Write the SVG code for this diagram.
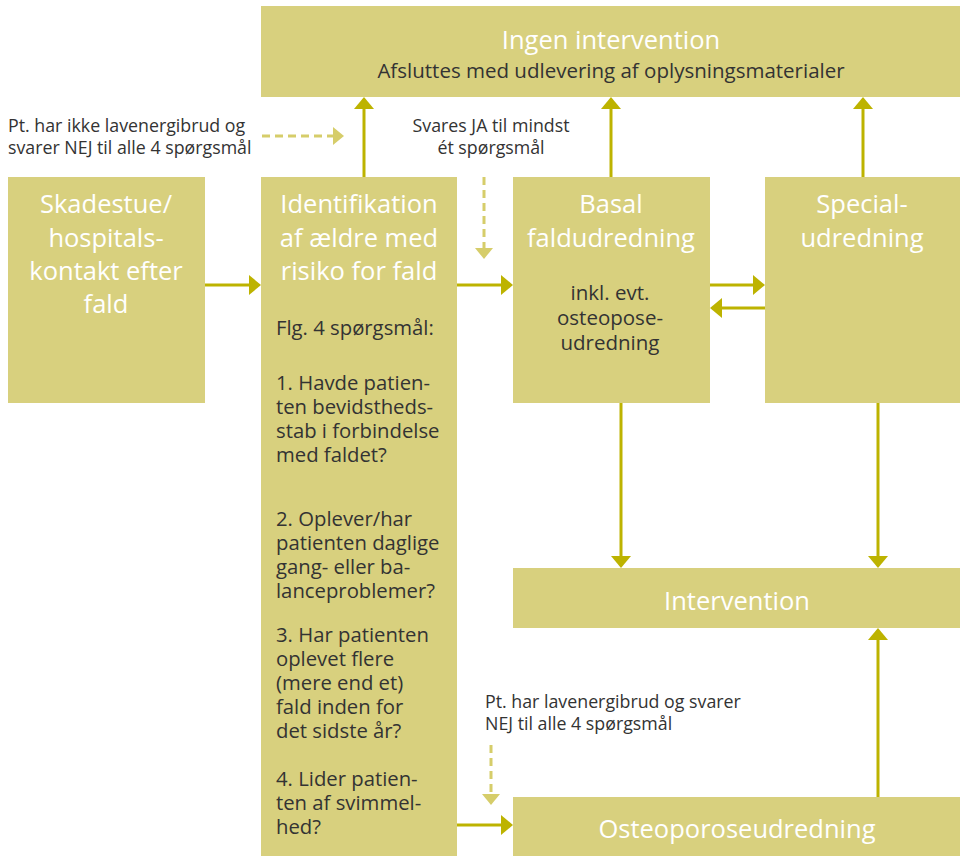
<svg xmlns="http://www.w3.org/2000/svg" width="960" height="856" viewBox="0 0 960 856">
<defs>
<style>
.box{fill:#D8D07E}
.t{font-family:"Open Sans","Liberation Sans",sans-serif;fill:#fff;font-size:25.5px;text-anchor:middle}
.b{font-family:"Open Sans","Liberation Sans",sans-serif;fill:#333;font-size:20.3px}
.s{font-family:"Open Sans","Liberation Sans",sans-serif;fill:#333;font-size:20.5px;text-anchor:middle}
.l{font-family:"Open Sans","Liberation Sans",sans-serif;fill:#333;font-size:17.8px}
.c{stroke:#BDB300;stroke-width:3;fill:none}
.d{stroke:#D6CD6A;stroke-width:3;fill:none;stroke-dasharray:8 5}
</style>
<marker id="ah" viewBox="0 0 12 20" refX="6" refY="10" markerWidth="12" markerHeight="20" markerUnits="userSpaceOnUse" orient="auto"><path d="M0,0 L12,10 L0,20 z" fill="#BDB300"/></marker>
<marker id="dh" viewBox="0 0 11 18" refX="5" refY="9" markerWidth="11" markerHeight="18" markerUnits="userSpaceOnUse" orient="auto"><path d="M0,0 L11,9 L0,18 z" fill="#D6CD6A"/></marker>
</defs>
<rect width="960" height="856" fill="#fff"/>
<g id="connectors">
<line class="c" x1="205" y1="285" x2="255" y2="285" marker-end="url(#ah)"/>
<line class="c" x1="457" y1="285" x2="507" y2="285" marker-end="url(#ah)"/>
<line class="c" x1="710" y1="285" x2="759" y2="285" marker-end="url(#ah)"/>
<line class="c" x1="765" y1="308" x2="716" y2="308" marker-end="url(#ah)"/>
<line class="c" x1="457" y1="825" x2="507" y2="825" marker-end="url(#ah)"/>
<line class="c" x1="364" y1="177" x2="364" y2="103" marker-end="url(#ah)"/>
<line class="c" x1="611" y1="177" x2="611" y2="103" marker-end="url(#ah)"/>
<line class="c" x1="863" y1="177" x2="863" y2="103" marker-end="url(#ah)"/>
<line class="c" x1="621" y1="403" x2="621" y2="562" marker-end="url(#ah)"/>
<line class="c" x1="878" y1="403" x2="878" y2="562" marker-end="url(#ah)"/>
<line class="c" x1="878" y1="797" x2="878" y2="634" marker-end="url(#ah)"/>
<line class="d" x1="262" y1="136" x2="338" y2="136" marker-end="url(#dh)"/>
<line class="d" x1="484" y1="177" x2="484" y2="253" marker-end="url(#dh)"/>
<line class="d" x1="491" y1="745" x2="491" y2="799" marker-end="url(#dh)"/>
</g>
<g id="ingen">
<rect class="box" x="261" y="6" width="699" height="91"/>
<text class="t" x="611" y="49">Ingen intervention</text>
<text class="s" x="611" y="78">Afsluttes med udlevering af oplysningsmaterialer</text>
</g>
<g id="skadestue">
<rect class="box" x="8" y="177" width="197" height="226"/>
<text class="t" x="106" y="213">Skadestue/</text>
<text class="t" x="106" y="247">hospitals-</text>
<text class="t" x="106" y="280">kontakt efter</text>
<text class="t" x="106" y="313">fald</text>
</g>
<g id="identifikation">
<rect class="box" x="261" y="177" width="196" height="679"/>
<text class="t" x="359" y="213">Identifikation</text>
<text class="t" x="359" y="247">af ældre med</text>
<text class="t" x="359" y="280">risiko for fald</text>
<text class="b" x="276" y="335">Flg. 4 spørgsmål:</text>
<text class="b" x="276" y="390">1. Havde patien-</text>
<text class="b" x="276" y="414">ten bevidstheds-</text>
<text class="b" x="276" y="438">stab i forbindelse</text>
<text class="b" x="276" y="462">med faldet?</text>
<text class="b" x="276" y="526">2. Oplever/har</text>
<text class="b" x="276" y="550">patienten daglige</text>
<text class="b" x="276" y="574">gang- eller ba-</text>
<text class="b" x="276" y="598">lanceproblemer?</text>
<text class="b" x="276" y="642">3. Har patienten</text>
<text class="b" x="276" y="666">oplevet flere</text>
<text class="b" x="276" y="690">(mere end et)</text>
<text class="b" x="276" y="714">fald inden for</text>
<text class="b" x="276" y="738">det sidste år?</text>
<text class="b" x="276" y="786">4. Lider patien-</text>
<text class="b" x="276" y="810">ten af svimmel-</text>
<text class="b" x="276" y="834">hed?</text>
</g>
<g id="basal">
<rect class="box" x="513" y="177" width="197" height="226"/>
<text class="t" x="611" y="213">Basal</text>
<text class="t" x="611" y="247">faldudredning</text>
<text class="s" x="610" y="300">inkl. evt.</text>
<text class="s" x="610" y="325">osteopose-</text>
<text class="s" x="610" y="350">udredning</text>
</g>
<g id="special">
<rect class="box" x="765" y="177" width="195" height="226"/>
<text class="t" x="862" y="213">Special-</text>
<text class="t" x="862" y="247">udredning</text>
</g>
<g id="intervention">
<rect class="box" x="513" y="568" width="447" height="60"/>
<text class="t" x="737" y="610">Intervention</text>
</g>
<g id="osteoporose">
<rect class="box" x="513" y="797" width="447" height="59"/>
<text class="t" x="737" y="838">Osteoporoseudredning</text>
</g>
<g id="labels">
<text class="l" x="8" y="132">Pt. har ikke lavenergibrud og</text>
<text class="l" x="8" y="154">svarer NEJ til alle 4 spørgsmål</text>
<text class="l" x="491" y="132" text-anchor="middle">Svares JA til mindst</text>
<text class="l" x="491" y="154" text-anchor="middle">ét spørgsmål</text>
<text class="l" x="485" y="708">Pt. har lavenergibrud og svarer</text>
<text class="l" x="485" y="730">NEJ til alle 4 spørgsmål</text>
</g>
</svg>
